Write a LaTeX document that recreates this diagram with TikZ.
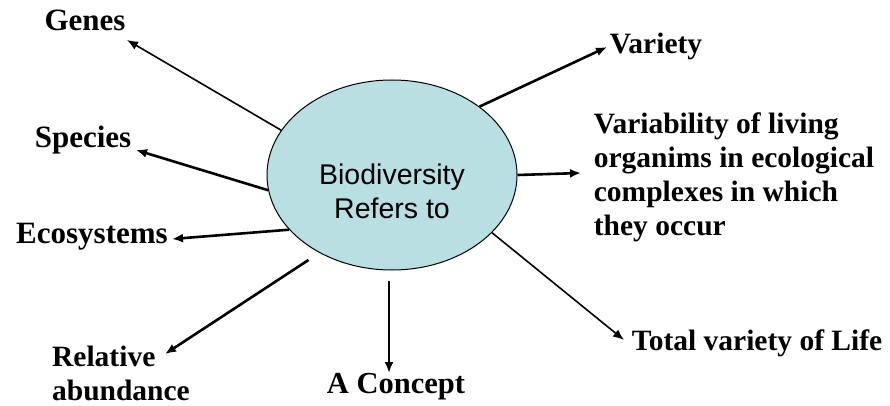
\documentclass[tikz,border=0pt]{standalone}
\usepackage{fontspec}
\setmainfont{Liberation Serif}
\newfontfamily\arialfont{Liberation Sans}
\usetikzlibrary{shapes.geometric,arrows.meta}
\definecolor{bubble}{HTML}{B9DFE3}
\begin{document}
\begin{tikzpicture}[x=1pt,y=-1pt,
  lbl/.style={inner sep=0pt,font=\fontsize{29.5}{34}\selectfont\bfseries},
  biglbl/.style={lbl,font=\fontsize{31}{34}\selectfont\bfseries},
  arr/.style={line width=2.6pt,-{Latex[length=11pt,width=9pt]}},
  thinarr/.style={line width=1.6pt,-{Latex[length=11pt,width=9pt]}}]
\useasboundingbox (0,0) rectangle (890,406);
\node[ellipse,draw=black,line width=1pt,fill=bubble,minimum width=250pt,minimum height=190pt,inner sep=0pt] (bio) at (392,175) {};
\node[align=center,inner sep=0pt,font=\arialfont\fontsize{28.5}{34}\selectfont] (biotxt) at (392,191) {Biodiversity\\Refers to};
\node[biglbl] (genes) at (85,20) {Genes};
\node[biglbl] (species) at (83,140) {Species};
\node[biglbl] (eco) at (92,237) {Ecosystems};
\node[lbl,align=left] (rel) at (121,373) {Relative\\abundance};
\node[lbl,font=\fontsize{30.5}{34}\selectfont\bfseries] (concept) at (396,387) {A Concept};
\node[lbl] (variety) at (656,46) {Variety};
\node[lbl,align=left] (varia) at (734,177) {Variability of living\\organims in ecological\\complexes in which\\they occur};
\node[lbl] (total) at (757,343) {Total variety of Life};
\draw[thinarr] (bio.158) -- ([shift={(42,20)}]genes.center);
\draw[arr] (bio.187) -- ([shift={(53,10)}]species.center);
\draw[arr] (bio.208) -- ([shift={(80,2)}]eco.center);
\draw[arr,shorten <=13pt] (bio.227) -- ([shift={(44,-19)}]rel.center);
\draw[arr,shorten <=10pt] ([xshift=-3pt]bio.south) -- ([shift={(-7,-14)}]concept.center);
\draw[arr] (bio.38) -- ([shift={(-49,1)}]variety.center);
\draw[arr] (bio.east) -- ([shift={(-153,-4)}]varia.center);
\draw[thinarr] (bio.330) -- ([shift={(-133,-3)}]total.center);
\end{tikzpicture}
\end{document}
